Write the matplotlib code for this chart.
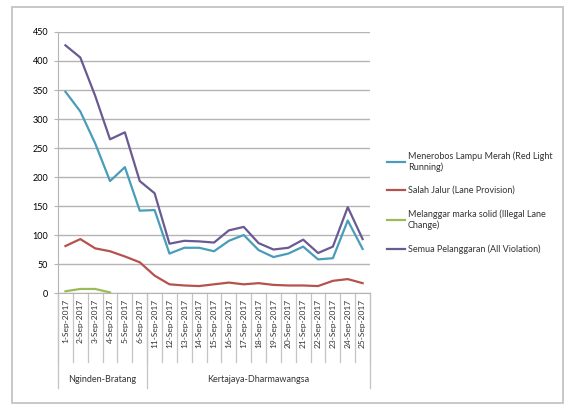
import numpy as np
import matplotlib
matplotlib.use('Agg')
import matplotlib.pyplot as plt
from matplotlib.lines import Line2D
from matplotlib.patches import Rectangle

plt.rcParams['font.family'] = ['Lato', 'DejaVu Sans']

# dates per location group
DATES = ["1-Sep-2017", "2-Sep-2017", "3-Sep-2017", "4-Sep-2017", "5-Sep-2017", "6-Sep-2017",
         "11-Sep-2017", "12-Sep-2017", "13-Sep-2017", "14-Sep-2017", "15-Sep-2017", "16-Sep-2017",
         "17-Sep-2017", "18-Sep-2017", "19-Sep-2017", "20-Sep-2017", "21-Sep-2017", "22-Sep-2017",
         "23-Sep-2017", "24-Sep-2017", "25-Sep-2017"]
GROUPS = ["Nginden-Bratang", "Kertajaya-Dharmawangsa"]
GROUP_SIZES = [6, 15]

red_light = [347, 313, 258, 193, 217, 142, 143, 68, 78, 78, 72, 90, 100, 74, 62, 68, 80, 58, 60, 125, 76]
lane_prov = [81, 93, 77, 72, 63, 53, 30, 15, 13, 12, 15, 18, 15, 17, 14, 13, 13, 12, 21, 24, 17]
lane_change = [3, 7, 7, 1] + [np.nan] * 17
all_viol = [427, 406, 340, 265, 277, 193, 172, 85, 90, 89, 87, 108, 114, 86, 75, 78, 92, 69, 80, 148, 93]

LABELS = ["Menerobos Lampu Merah (Red Light\nRunning)",
          "Salah Jalur (Lane Provision)",
          "Melanggar marka solid (Illegal Lane\nChange)",
          "Semua Pelanggaran (All Violation)"]
COLORS = ["#4A9DB8", "#B5524E", "#9BBB59", "#6A5A92"]

fig = plt.figure(figsize=(5.7, 4.05), dpi=100)
fig.patches.append(Rectangle((0.021, 0.006), 0.966, 0.976, transform=fig.transFigure,
                             fill=False, edgecolor="#C4C4C4", linewidth=1.3))
ax = fig.add_axes([0.1018, 0.2765, 0.5474, 0.6445])

x = np.arange(len(DATES))
series = [red_light, lane_prov, lane_change, all_viol]
for vals, col in zip(series, COLORS):
    ax.plot(x, vals, color=col, linewidth=1.6, zorder=3)

ax.set_xlim(-0.5, len(DATES) - 0.5)
ax.set_ylim(0, 450)
ax.set_yticks(range(0, 451, 50))
ax.yaxis.grid(True, color="#B4B4B4", linewidth=1.0)
ax.set_axisbelow(True)
for s in ["top", "right"]:
    ax.spines[s].set_visible(False)
ax.spines["left"].set_color("#B4B4B4")
ax.spines["bottom"].set_color("#B4B4B4")
ax.tick_params(axis="y", labelsize=6.5, length=3, color="#B4B4B4", pad=4)
ax.set_xticks(x)
ax.set_xticklabels(DATES, rotation=90, fontsize=6, color="#333333")
ax.tick_params(axis="x", length=0, pad=4)

# category separators
trans = ax.get_xaxis_transform()
for b in np.arange(len(DATES) + 1) - 0.5:
    ax.plot([b, b], [0, -0.264], transform=trans, color="#C4C4C4", linewidth=0.9, clip_on=False)
start = 0
for name, n in zip(GROUPS, GROUP_SIZES):
    ax.plot([start - 0.5, start - 0.5], [0, -0.364], transform=trans, color="#C4C4C4",
            linewidth=0.9, clip_on=False)
    ax.text(start - 0.5 + n / 2, -0.33, name, transform=trans, ha="center", va="center",
            fontsize=6.5, color="#333333")
    start += n
ax.plot([start - 0.5, start - 0.5], [0, -0.364], transform=trans, color="#C4C4C4",
        linewidth=0.9, clip_on=False)

handles = [Line2D([], [], color=c, linewidth=1.6) for c in COLORS]
fig.legend(handles, LABELS, loc="center left", bbox_to_anchor=(0.665, 0.5), frameon=False,
           fontsize=6.5, handlelength=2.0, handletextpad=0.3, labelspacing=1.6,
           labelcolor="#333333")

fig.savefig("out.png", dpi=100)
